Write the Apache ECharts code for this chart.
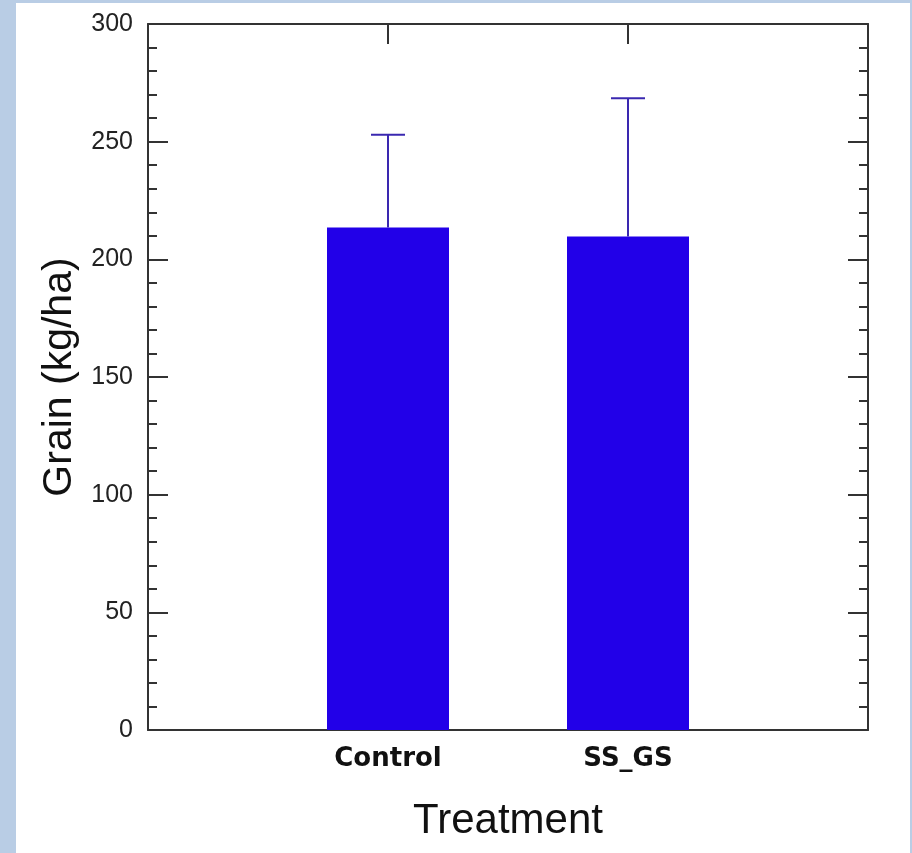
<!DOCTYPE html>
<html lang="en">
<head>
    <meta charset="UTF-8">
    <title>Grain by treatment</title>
    <script src="https://cdn.jsdelivr.net/npm/echarts@6/dist/echarts.min.js"></script>
    <style>
        html, body { margin: 0; padding: 0; }
        body { background-color: #b9cde5; width: 912px; height: 853px; overflow: hidden; }
        #main { position: absolute; left: 16px; top: 3px; width: 894px; height: 850px; background: #fff; }
    </style>
</head>
<body>
    <div id="main"></div>
    <script type="text/javascript">
        // data
        const categories = ['', 'Control', 'SS_GS', ''];
        const grain = [null, 213.5, 209.7, null];
        const errUp = [null, 39.4, 58.8, null];
        const yTicks = [0, 50, 100, 150, 200, 250, 300];

        const axisColor = '#333';
        const barColor = '#2200e8';
        const errColor = '#3a28b0';

        let errData = [];
        for (let i = 0; i < categories.length; i++) {
            if (grain[i] != null) errData.push([i, grain[i], grain[i] + errUp[i]]);
        }

        let yAxisBase = {
            type: 'value',
            min: yTicks[0],
            max: yTicks[yTicks.length - 1],
            interval: 50,
            axisLine: { show: true, lineStyle: { color: axisColor, width: 2 } },
            axisTick: { show: true, inside: true, length: 20, lineStyle: { color: axisColor, width: 2 } },
            minorTick: { show: true, splitNumber: 5, length: 9, lineStyle: { color: axisColor, width: 2 } },
            splitLine: { show: false }
        };

        let options = {
            animation: false,
            grid: { left: 132, right: 42, top: 21, bottom: 123, containLabel: false },
            xAxis: [{
                type: 'category',
                data: categories,
                boundaryGap: false,
                position: 'bottom',
                name: 'Treatment',
                nameLocation: 'middle',
                nameGap: 70,
                nameTextStyle: { fontFamily: 'Liberation Sans', fontSize: 42, color: '#111' },
                axisLine: { onZero: false, lineStyle: { color: axisColor, width: 2 } },
                axisTick: { show: false },
                axisLabel: {
                    fontFamily: 'DejaVu Sans', fontWeight: 'bold', fontSize: 26, color: '#111',
                    margin: 16, interval: 0
                }
            }, {
                type: 'category',
                data: categories,
                boundaryGap: false,
                position: 'top',
                axisLine: { onZero: false, lineStyle: { color: axisColor, width: 2 } },
                axisTick: {
                    show: true, inside: true, length: 20,
                    interval: (idx) => idx === 1 || idx === 2,
                    lineStyle: { color: axisColor, width: 2 }
                },
                axisLabel: { show: false }
            }],
            yAxis: [Object.assign({}, yAxisBase, {
                position: 'left',
                name: 'Grain (kg/ha)',
                nameLocation: 'middle',
                nameGap: 62,
                nameTextStyle: { fontFamily: 'Liberation Sans', fontSize: 41, color: '#111' },
                axisLabel: { fontFamily: 'Liberation Sans', fontSize: 25, color: '#222', margin: 15 }
            }), Object.assign({}, yAxisBase, {
                position: 'right',
                axisLabel: { show: false }
            })],
            series: [{
                type: 'bar',
                data: grain,
                barWidth: 122,
                itemStyle: { color: barColor },
                z: 2
            }, {
                type: 'custom',
                data: errData,
                z: 3,
                renderItem: (params, api) => {
                    let base = api.coord([api.value(0), api.value(1)]);
                    let top = api.coord([api.value(0), api.value(2)]);
                    let half = 17;
                    let style = { stroke: errColor, lineWidth: 2 };
                    return {
                        type: 'group',
                        children: [
                            { type: 'line', shape: { x1: base[0], y1: base[1], x2: top[0], y2: top[1] }, style: style },
                            { type: 'line', shape: { x1: top[0] - half, y1: top[1], x2: top[0] + half, y2: top[1] }, style: style }
                        ]
                    };
                }
            }]
        };

        let myChart = echarts.init(document.getElementById('main'));
        myChart.setOption(options);
    </script>
</body>
</html>
